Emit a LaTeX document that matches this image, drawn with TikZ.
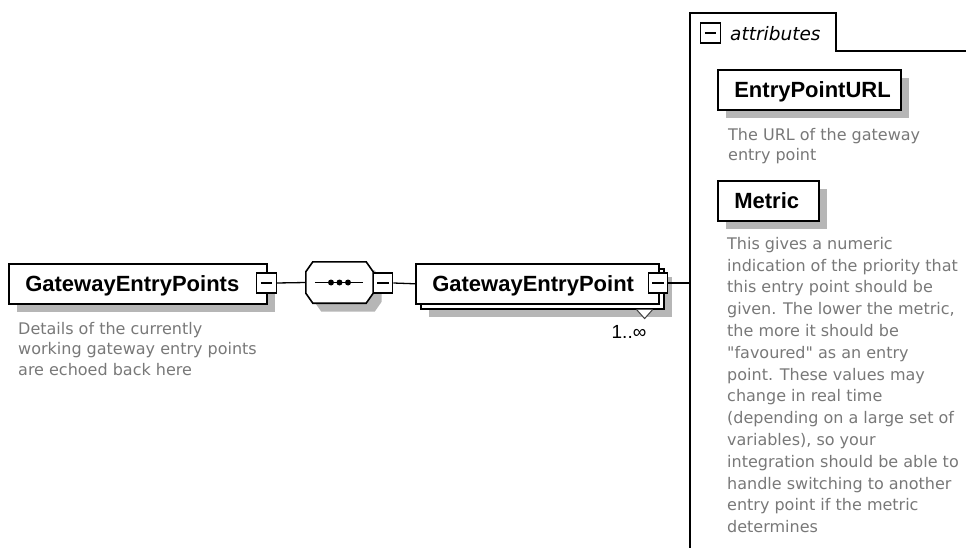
\documentclass[tikz,border=0pt]{standalone}
\usepackage{fontspec}
\setmainfont{Liberation Sans}
\newfontfamily\descfont{DejaVu Sans}
\usetikzlibrary{shadows}

\definecolor{shadowgray}{RGB}{182,182,182}
\definecolor{descgray}{RGB}{120,120,120}

\tikzset{
  elbase/.style={draw=black, line width=1.6pt, fill=white, rectangle,
    inner xsep=16.5pt, inner ysep=0pt, minimum height=40pt, anchor=north west,
    align=left, text height=15.75pt, text depth=0pt,
    font=\fontsize{22}{26}\selectfont\bfseries},
  elbox/.style={elbase,
    drop shadow={shadow xshift=8.5pt, shadow yshift=-8.5pt, opacity=1, fill=shadowgray}},
  elmulti/.style={elbase,
    drop shadow={shadow xshift=13.5pt, shadow yshift=-13.5pt, opacity=1, fill=shadowgray},
    copy shadow={shadow xshift=5pt, shadow yshift=-5pt, opacity=1, fill=white, draw=black, line width=1.6pt}},
  minus/.style={draw=black, line width=1.3pt, fill=white, rectangle,
    minimum width=19.5pt, minimum height=20pt, inner sep=0pt,
    path picture={\draw[line width=1.1pt]
      ([xshift=4pt]path picture bounding box.west) --
      ([xshift=-4pt]path picture bounding box.east);}},
  wire/.style={draw=black, line width=1.3pt},
  desc/.style={anchor=north west, inner sep=0pt, align=left, text=descgray},
}

% outline of the sequence compositor, shifted by (#1,#2)
\newcommand\seqoutline[2]{%
  ([shift={(#1+7pt,#2)}]seq.north west) -- ([shift={(#1-7pt,#2)}]seq.north east) --
  ([shift={(#1,#2-10pt)}]seq.north east) -- ([shift={(#1,#2+10pt)}]seq.south east) --
  ([shift={(#1-7pt,#2)}]seq.south east) -- ([shift={(#1+7pt,#2)}]seq.south west) --
  ([shift={(#1,#2+10pt)}]seq.south west) -- ([shift={(#1,#2-10pt)}]seq.north west) -- cycle}

\begin{document}
\begin{tikzpicture}[x=1pt, y=-1pt]
\useasboundingbox (0,0) rectangle (966,548);

% root element
\node[elbox, text width=225pt] (geps) at (8,263) {GatewayEntryPoints};
\node[minus] (m1) at (266.5,283) {};
\node[desc, font=\descfont\fontsize{16}{20.5}\selectfont] (gepsdoc) at (18,321)
  {\rule{0pt}{13pt}Details of the currently\\working gateway entry points\\are echoed back here};

% sequence compositor
\node[inner sep=0pt, minimum width=67pt, minimum height=41pt] (seq) at (339.5,282.5) {};
\fill[shadowgray] \seqoutline{8.5pt}{-8.5pt};
\filldraw[fill=white, draw=black, line width=1.6pt] \seqoutline{0pt}{0pt};
\draw[line width=1.5pt] ([xshift=9pt]seq.west) -- ([xshift=-10pt]seq.east);
\foreach \dx in {-8.5,0,8.5}
  \fill ([xshift=\dx pt]seq.center) circle (3pt);
\node[minus] (m2) at (383,283) {};

% repeated child element
\node[elmulti, text width=210pt] (gep) at (415,263) {GatewayEntryPoint};
\filldraw[fill=white, draw=black!75, line width=1pt]
  ([shift={(-23pt,-5pt)}]gep.south east) -- ([shift={(-15pt,-14pt)}]gep.south east) --
  ([shift={(-7pt,-5pt)}]gep.south east);
\node[minus] (m3) at (658,283) {};
\node[font=\fontsize{19}{22}\selectfont, inner sep=0pt] (card) at (629,332) {1..∞};

% attributes panel
\coordinate (tabtop) at (690,13);
\draw[line width=1.6pt] (690,548) -- (tabtop) -- (836,13) -- (836,51) -- (966,51);
\node[minus] (m4) at (710.5,33) {};
\node[anchor=base west, inner sep=0pt, font=\descfont\itshape\fontsize{18.5}{22}\selectfont] (attrlbl) at (730,41) {attributes};

\node[elbox, text width=150pt] (url) at (717,69) {EntryPointURL};
\node[desc, font=\descfont\fontsize{16}{20.5}\selectfont] (urldoc) at (728,127)
  {\rule{0pt}{13pt}The URL of the gateway\\entry point};

\node[elbox, text width=68pt] (metric) at (717,180) {Metric};
\node[desc, font=\descfont\fontsize{16}{21.8}\selectfont] (metricdoc) at (727,236)
  {\rule{0pt}{13pt}This gives a numeric\\indication of the priority that\\this entry point should be\\given. The lower the metric,\\the more it should be\\"favoured" as an entry\\point. These values may\\change in real time\\(depending on a large set of\\variables), so your\\integration should be able to\\handle switching to another\\entry point if the metric\\determines};

% connectors
\draw[wire] (m1.east) -- (seq.west);
\draw[wire] (m2.east) -- (gep.west);
\draw[wire] (m3.east) -- (m3.east -| tabtop);
\end{tikzpicture}
\end{document}
